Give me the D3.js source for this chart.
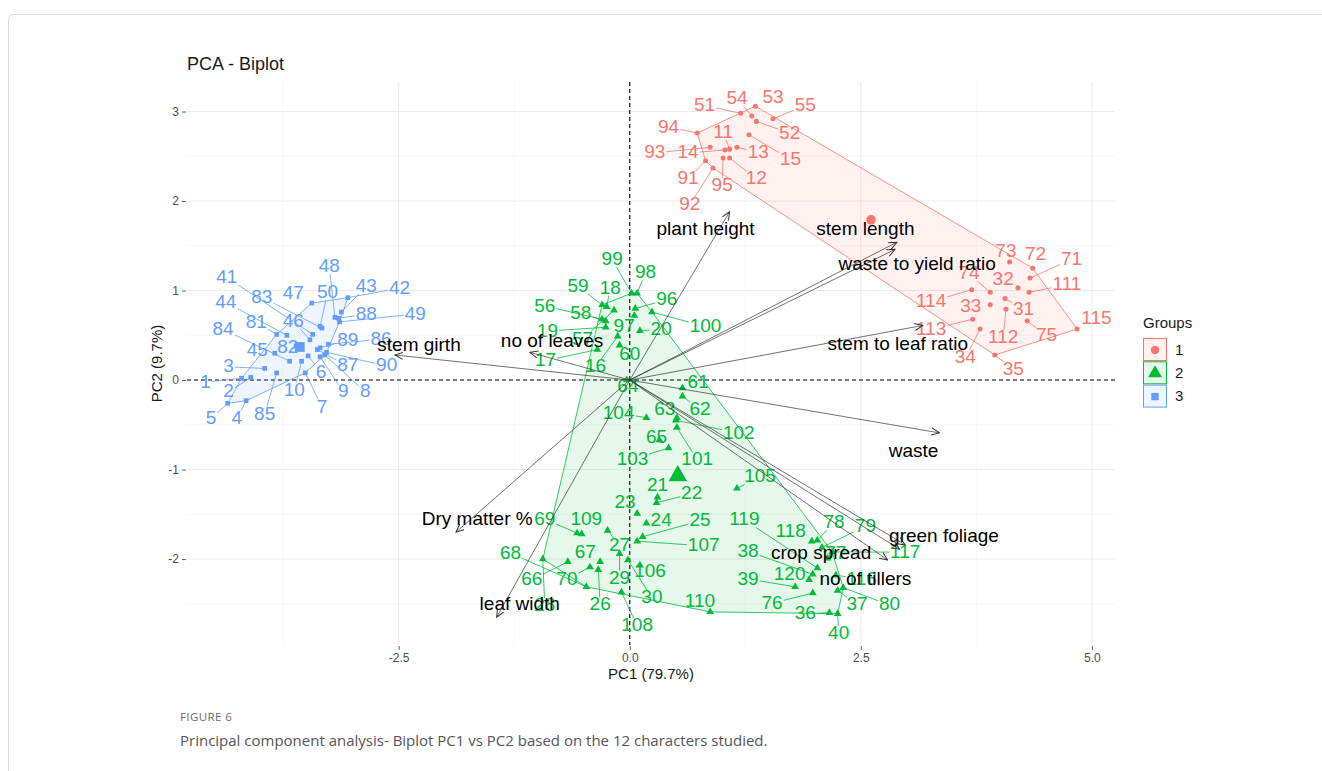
<!DOCTYPE html>
<html><head><meta charset="utf-8">
<script src="https://cdn.jsdelivr.net/npm/d3@7"></script>
<style>body{margin:0;background:#fff;} svg{display:block;}</style>
</head><body>
<svg id="chart" width="1322" height="771"></svg>
<script>
// ---------------- DATA ----------------
// Group 1
const g1Id   = [11,12,13,14,15,31,32,33,34,35,51,52,53,54,55,71,72,73,74,75,91,92,93,94,95,111,112,113,114,115];
const g1PC1  = [1.08,1.08,1.16,1.03,1.29,4.06,4.20,3.90,3.79,3.95,1.20,1.37,1.36,1.32,1.55,4.33,4.36,4.11,3.90,4.30,0.82,0.90,0.87,0.73,1.01,4.32,4.07,3.71,3.70,4.84];
const g1PC2  = [2.58,2.48,2.60,2.57,2.74,0.91,1.03,0.84,0.57,0.28,2.98,2.89,3.06,2.95,2.92,1.14,1.25,1.32,0.98,0.66,2.45,2.37,2.60,2.76,2.48,0.98,0.79,0.68,1.01,0.57];
const g1LabPC1 = [1.01,1.37,1.39,0.63,1.74,4.26,4.04,3.69,3.63,4.15,0.81,1.73,1.55,1.16,1.90,4.78,4.39,4.07,3.67,4.51,0.63,0.65,0.27,0.42,1.00,4.73,4.04,3.26,3.26,5.05];
const g1LabPC2 = [2.78,2.26,2.56,2.55,2.48,0.80,1.14,0.83,0.26,0.13,3.08,2.77,3.17,3.16,3.08,1.36,1.42,1.45,1.20,0.51,2.26,1.97,2.55,2.84,2.19,1.08,0.49,0.58,0.89,0.70];

// Group 2
const g2Id   = [16,17,18,19,20,21,22,23,24,25,26,27,28,29,30,36,37,38,39,40,56,57,58,59,60,61,62,63,64,65,66,67,68,69,70,76,77,78,79,80,96,97,98,99,100,101,102,103,104,105,106,107,108,109,110,116,117,118,119,120];
const g2PC1  = [-0.13,-0.35,-0.25,-0.26,0.11,0.30,0.29,0.08,0.18,0.14,-0.34,-0.24,-0.94,-0.11,-0.02,2.16,2.25,1.98,1.79,2.25,-0.30,-0.17,-0.26,-0.30,-0.11,0.57,0.57,0.51,-0.03,0.32,-0.67,-0.32,-0.47,-0.57,-0.43,1.98,2.14,2.03,2.08,2.31,0.06,0.05,0.08,0.02,0.24,0.51,0.50,0.42,0.18,1.16,0.11,0.08,-0.09,-0.52,0.87,2.23,2.19,1.97,2.03,1.94];
const g2PC2  = [0.49,0.34,0.82,0.59,0.55,-1.31,-1.37,-1.49,-1.60,-1.75,-2.12,-1.68,-2.00,-1.94,-2.01,-2.60,-2.35,-2.17,-2.31,-2.61,0.68,0.78,0.66,0.84,0.39,-0.09,-0.18,-0.42,0.00,-0.67,-2.03,-2.03,-2.31,-1.71,-2.09,-2.38,-1.99,-1.79,-1.87,-2.32,0.80,0.72,0.97,0.97,0.76,-0.53,-0.45,-0.76,-0.42,-1.21,-2.07,-1.80,-2.37,-1.72,-2.59,-2.18,-1.92,-1.80,-2.10,-2.23];
const g2LabPC1 = [-0.37,-0.91,-0.21,-0.89,0.34,0.30,0.67,-0.05,0.34,0.76,-0.32,-0.11,-0.92,-0.11,0.24,1.90,2.46,1.28,1.28,2.26,-0.92,-0.51,-0.53,-0.56,0.00,0.74,0.76,0.38,-0.02,0.29,-1.06,-0.48,-1.29,-0.92,-0.68,1.54,2.23,2.21,2.55,2.81,0.40,-0.06,0.17,-0.19,0.82,0.73,1.18,0.03,-0.12,1.41,0.22,0.80,0.08,-0.47,0.76,2.51,2.98,1.74,1.24,1.73];
const g2LabPC2 = [0.16,0.23,1.04,0.56,0.58,-1.16,-1.26,-1.35,-1.56,-1.56,-2.50,-1.84,-2.51,-2.20,-2.42,-2.60,-2.50,-1.90,-2.21,-2.82,0.84,0.47,0.76,1.06,0.30,-0.01,-0.32,-0.32,-0.06,-0.63,-2.22,-1.91,-1.92,-1.54,-2.21,-2.48,-1.93,-1.58,-1.62,-2.50,0.91,0.61,1.21,1.36,0.61,-0.88,-0.58,-0.87,-0.36,-1.07,-2.13,-1.84,-2.73,-1.55,-2.46,-2.21,-1.91,-1.68,-1.55,-2.16];

// Group 3
const g3Id   = [1,2,3,4,5,6,7,8,9,10,41,42,43,44,45,46,47,48,49,50,81,82,83,84,85,86,87,88,89,90];
const g3PC1  = [-4.20,-4.10,-3.95,-4.15,-4.35,-3.48,-3.51,-3.30,-3.35,-3.55,-3.43,-3.05,-3.12,-3.71,-3.84,-3.46,-3.44,-3.19,-3.14,-3.35,-3.82,-3.61,-3.33,-3.68,-3.82,-3.26,-3.38,-3.15,-3.35,-3.28];
const g3PC2  = [0.02,0.03,0.13,-0.23,-0.26,0.27,0.08,0.28,0.26,0.21,0.51,0.92,0.76,0.50,0.30,0.45,0.86,0.70,0.65,0.60,0.51,0.38,0.58,0.21,0.08,0.40,0.34,0.69,0.36,0.31];
const g3LabPC1 = [-4.59,-4.34,-4.34,-4.25,-4.53,-3.34,-3.33,-2.86,-3.10,-3.63,-4.36,-2.49,-2.85,-4.37,-4.03,-3.64,-3.64,-3.25,-2.32,-3.27,-4.04,-3.70,-3.98,-4.40,-3.95,-2.69,-3.05,-2.85,-3.05,-2.63];
const g3LabPC2 = [-0.01,-0.12,0.16,-0.42,-0.42,0.10,-0.29,-0.12,-0.12,-0.10,1.16,1.04,1.06,0.88,0.34,0.67,0.98,1.28,0.75,0.99,0.66,0.38,0.94,0.58,-0.37,0.47,0.17,0.75,0.46,0.17];

// Group centroids
const groupNames   = ["1","2","3"];
const centroidPC1  = [2.61, 0.52, -3.57];
const centroidPC2  = [1.79, -1.07, 0.37];

// Variables (loadings arrows)
const varNames  = ["plant height","stem length","waste to yield ratio","stem to leaf ratio","waste","green foliage","no of tillers","crop spread","stem girth","no of leaves","Dry matter %","leaf width"];
const varPC1    = [1.08,2.89,2.87,3.17,3.35,2.98,2.92,2.79,-2.54,-1.08,-1.88,-1.44];
const varPC2    = [1.88,1.54,1.46,0.61,-0.59,-1.84,-1.89,-2.01,0.28,0.31,-1.70,-2.65];
const varLabPC1 = [0.82,2.55,3.11,2.90,3.07,3.40,2.55,2.07,-2.28,-0.84,-1.65,-1.19];
const varLabPC2 = [1.70,1.70,1.30,0.41,-0.78,-1.73,-2.22,-1.93,0.40,0.44,-1.55,-2.50];

// Axis ticks
const xTicks = [-2.5, 0, 2.5, 5];
const xTickLabels = ["-2.5","0.0","2.5","5.0"];
const xMinor = [-3.75,-1.25,1.25,3.75];
const yTicks = [-2,-1,0,1,2,3];
const yTickLabels = ["-2","-1","0","1","2","3"];
const yMinor = [-2.5,-1.5,-0.5,0.5,1.5,2.5];

// ---------------- LAYOUT / STYLE ----------------
const colors = ["#F8766D","#00BA38","#619CFF"];
const FONT = "'Liberation Sans', Arial, sans-serif";
const panel = {left:187, right:1115, top:82, bottom:645};

const svg = d3.select("#chart");
const x = d3.scaleLinear().domain([-4.79, 5.25]).range([panel.left, panel.right]);
const y = d3.scaleLinear().domain([-2.96, 3.33]).range([panel.bottom, panel.top]);

// figure card border
svg.append("rect").attr("x",8.5).attr("y",14.5).attr("width",1340).attr("height",800)
  .attr("rx",5).attr("fill","none").attr("stroke","#dcdcdc").attr("stroke-width",1);

// grid
const grid = svg.append("g");
grid.selectAll(".xmin").data(xMinor).join("line")
  .attr("x1",d=>x(d)).attr("x2",d=>x(d)).attr("y1",panel.top).attr("y2",panel.bottom)
  .attr("stroke","#f3f3f3").attr("stroke-width",0.6);
grid.selectAll(".ymin").data(yMinor).join("line")
  .attr("y1",d=>y(d)).attr("y2",d=>y(d)).attr("x1",panel.left).attr("x2",panel.right)
  .attr("stroke","#f3f3f3").attr("stroke-width",0.6);
grid.selectAll(".xmaj").data(xTicks).join("line")
  .attr("x1",d=>x(d)).attr("x2",d=>x(d)).attr("y1",panel.top).attr("y2",panel.bottom)
  .attr("stroke","#ebebeb").attr("stroke-width",1);
grid.selectAll(".ymaj").data(yTicks).join("line")
  .attr("y1",d=>y(d)).attr("y2",d=>y(d)).attr("x1",panel.left).attr("x2",panel.right)
  .attr("stroke","#ebebeb").attr("stroke-width",1);

// axes
const xAxis = svg.append("g").attr("transform",`translate(0,${panel.bottom+1})`)
  .call(d3.axisBottom(x).tickValues(xTicks).tickFormat((d,i)=>xTickLabels[i]).tickSize(4).tickPadding(3));
const yAxis = svg.append("g").attr("transform",`translate(${panel.left-1},0)`)
  .call(d3.axisLeft(y).tickValues(yTicks).tickFormat((d,i)=>yTickLabels[i]).tickSize(4).tickPadding(3));
[xAxis,yAxis].forEach(a=>{
  a.select(".domain").remove();
  a.selectAll(".tick line").attr("stroke","#333").attr("stroke-width",0.8);
  a.selectAll(".tick text").attr("fill","#4d4d4d").style("font-family",FONT).style("font-size","12px");
});

// zero dashed lines
svg.append("line").attr("x1",panel.left).attr("x2",panel.right).attr("y1",y(0)).attr("y2",y(0))
  .attr("stroke","#000").attr("stroke-width",1.1).attr("stroke-dasharray","4,3");
svg.append("line").attr("x1",x(0)).attr("x2",x(0)).attr("y1",panel.top).attr("y2",panel.bottom)
  .attr("stroke","#000").attr("stroke-width",1.1).attr("stroke-dasharray","4,3");

// individuals
const individuals = [];
[[g1Id,g1PC1,g1PC2,g1LabPC1,g1LabPC2],[g2Id,g2PC1,g2PC2,g2LabPC1,g2LabPC2],[g3Id,g3PC1,g3PC2,g3LabPC1,g3LabPC2]]
 .forEach((arr,g)=>{
   arr[0].forEach((id,i)=>individuals.push({g, id, pc1:arr[1][i], pc2:arr[2][i], lx:arr[3][i], ly:arr[4][i]}));
 });

// hulls
const hullG = svg.append("g");
[0,1,2].forEach(g=>{
  const pts = individuals.filter(d=>d.g===g).map(d=>[x(d.pc1), y(d.pc2)]);
  const hull = d3.polygonHull(pts);
  hullG.append("path").attr("d","M"+hull.join("L")+"Z")
    .attr("fill",colors[g]).attr("fill-opacity",0.1)
    .attr("stroke",colors[g]).attr("stroke-width",0.8);
});

const segG = svg.append("g");
const ptG = svg.append("g");
const labG = svg.append("g");

function symbolFor(g, size){
  const types = [d3.symbolCircle, d3.symbolTriangle, d3.symbolSquare];
  return d3.symbol().type(types[g]).size(size)();
}

// points
ptG.selectAll("path").data(individuals).join("path")
  .attr("transform",d=>`translate(${x(d.pc1)},${y(d.pc2)})`)
  .attr("d",d=>symbolFor(d.g, d.g===0?20:(d.g===1?26:22)))
  .attr("fill",d=>colors[d.g]);

// labels
const labels = labG.selectAll("text").data(individuals).join("text")
  .attr("x",d=>x(d.lx)).attr("y",d=>y(d.ly)).attr("dy","0.35em")
  .attr("text-anchor","middle").attr("fill",d=>colors[d.g])
  .style("font-family",FONT).style("font-size","19px")
  .text(d=>d.id);

// leader segments
labels.each(function(d){
  const b = this.getBBox();
  const cx = b.x + b.width/2, cy = b.y + b.height/2 + 1;
  const hw = b.width/2 + 1, hh = b.height*0.36;
  const px = x(d.pc1), py = y(d.pc2);
  const dx = px - cx, dy = py - cy;
  const tx = dx!==0 ? hw/Math.abs(dx) : Infinity;
  const ty = dy!==0 ? hh/Math.abs(dy) : Infinity;
  const t = Math.min(tx,ty);
  if (t >= 1) return;
  const ex = cx + dx*t, ey = cy + dy*t;
  const len = Math.hypot(px-ex, py-ey);
  if (len < 8) return;
  const k = (len-2)/len;
  segG.append("line").attr("x1",ex).attr("y1",ey).attr("x2",ex+(px-ex)*k).attr("y2",ey+(py-ey)*k)
    .attr("stroke",colors[d.g]).attr("stroke-width",0.8);
});

// centroids
svg.append("g").selectAll("path").data(groupNames).join("path")
  .attr("transform",(d,i)=>`translate(${x(centroidPC1[i])},${y(centroidPC2[i])})`)
  .attr("d",(d,i)=>symbolFor(i, i===0?70:(i===1?150:95)))
  .attr("fill",(d,i)=>colors[i]);

// variable arrows
const defs = svg.append("defs");
defs.append("marker").attr("id","arrow").attr("viewBox","0 0 10 10").attr("refX",9).attr("refY",5)
  .attr("markerWidth",9).attr("markerHeight",9).attr("markerUnits","userSpaceOnUse").attr("orient","auto")
  .append("path").attr("d","M0,1 L9,5 L0,9").attr("fill","none").attr("stroke","#333").attr("stroke-width",1.1);

const arrG = svg.append("g");
arrG.selectAll("line").data(varNames).join("line")
  .attr("x1",x(0)).attr("y1",y(0))
  .attr("x2",(d,i)=>x(varPC1[i])).attr("y2",(d,i)=>y(varPC2[i]))
  .attr("stroke","#333").attr("stroke-width",0.7).attr("marker-end","url(#arrow)");
arrG.selectAll("text").data(varNames).join("text")
  .attr("x",(d,i)=>x(varLabPC1[i])).attr("y",(d,i)=>y(varLabPC2[i])).attr("dy","0.35em")
  .attr("text-anchor","middle").attr("fill","#000")
  .style("font-family",FONT).style("font-size","19px")
  .text(d=>d);

// title
svg.append("text").attr("x",187).attr("y",70).text("PCA - Biplot")
  .attr("fill","#1a1a1a").style("font-family",FONT).style("font-size","18px");

// axis titles
svg.append("text").attr("x",(panel.left+panel.right)/2).attr("y",679).attr("text-anchor","middle")
  .text("PC1 (79.7%)").attr("fill","#1a1a1a").style("font-family",FONT).style("font-size","15px");
svg.append("text").attr("transform",`translate(157,${(panel.top+panel.bottom)/2}) rotate(-90)`)
  .attr("text-anchor","middle").attr("dy","0.35em")
  .text("PC2 (9.7%)").attr("fill","#1a1a1a").style("font-family",FONT).style("font-size","15px");

// legend
const leg = svg.append("g").attr("transform","translate(1143,0)");
leg.append("text").attr("x",0).attr("y",328).text("Groups")
  .attr("fill","#1a1a1a").style("font-family",FONT).style("font-size","15px");
groupNames.forEach((nm,i)=>{
  const top = 338.5 + i*23.3;
  leg.append("rect").attr("x",0.5).attr("y",top).attr("width",23).attr("height",22)
    .attr("fill",colors[i]).attr("fill-opacity",0.1).attr("stroke",colors[i]).attr("stroke-width",1);
  leg.append("path").attr("transform",`translate(12,${top+11.5})`)
    .attr("d",symbolFor(i, i===0?55:(i===1?85:55))).attr("fill",colors[i]);
  leg.append("text").attr("x",32).attr("y",top+11).attr("dy","0.35em").text(nm)
    .attr("fill","#1a1a1a").style("font-family",FONT).style("font-size","15px");
});

// caption
svg.append("text").attr("x",180).attr("y",721).text("FIGURE 6")
  .attr("fill","#6b6b6b").style("font-family","'Open Sans', 'Liberation Sans', sans-serif").style("font-size","11.5px")
  .style("letter-spacing","0.4px");
svg.append("text").attr("x",180).attr("y",746)
  .text("Principal component analysis- Biplot PC1 vs PC2 based on the 12 characters studied.")
  .attr("fill","#555").style("font-family","'Open Sans', 'Liberation Sans', sans-serif").style("font-size","15px");
</script>
</body></html>
